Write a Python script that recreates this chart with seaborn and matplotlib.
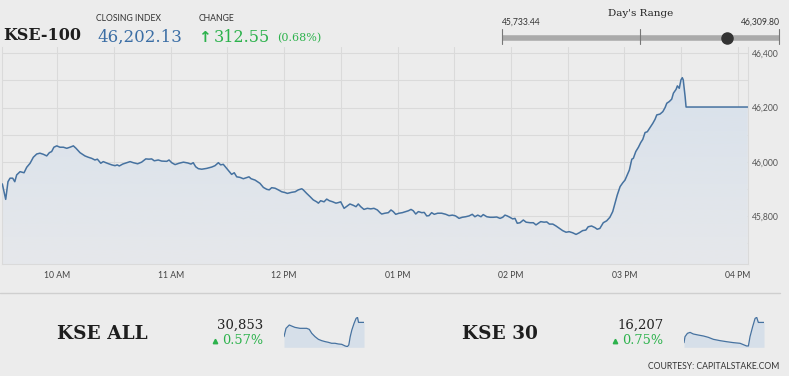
import numpy as np
import pandas as pd
import matplotlib.pyplot as plt
import matplotlib.colors as mcolors
import seaborn as sns

W, H = 789, 376

# KSE-100 intraday: minutes after 09:30 and index level
kse100_min = [0.9, 2.7, 3.9, 5.0, 6.4, 7.5, 8.5, 10.3, 12.4, 13.8, 15.6, 17.3, 19.1, 20.8, 22.6,
              24.4, 25.8, 27.0, 28.2, 29.7, 31.4, 33.2, 35.0, 36.7, 38.5, 39.9, 42.0, 44.6, 46.4,
              48.2, 49.9, 51.2, 53.0, 54.3, 56.4, 58.8, 60.5, 61.7, 62.8, 64.6, 66.7, 68.5,
              70.2, 72.5, 74.6, 76.8, 78.5, 79.9, 81.3, 83.4, 85.2, 87.9, 89.1, 90.5, 92.3, 94.4,
              96.7, 99.0, 100.7, 101.9, 103.2, 104.6, 106.4, 109.0, 111.7, 113.4, 115.2, 116.4,
              117.8, 119.6, 120.8, 122.2, 123.6, 124.9, 126.6, 128.4, 129.7, 131.4, 132.5, 134.6,
              137.2, 139.0, 140.8, 142.1, 143.4, 145.2, 146.9, 148.7, 150.5, 151.7, 154.0, 155.8,
              157.5, 159.3, 160.1, 161.9, 163.7, 165.4, 167.2, 168.1, 169.3, 171.1, 172.5, 173.9,
              175.7, 177.4, 178.6, 179.9, 181.7, 183.4, 184.8, 186.6, 188.0, 189.2, 190.5, 192.2,
              194.0, 195.8, 197.5, 199.3, 200.7,
              201.6, 203.3, 205.1, 206.5, 207.7, 209.0, 210.8, 212.5, 214.3, 215.7, 217.1, 218.3,
              219.6, 221.0, 222.8, 224.1, 225.4, 226.6, 228.0, 229.4, 231.2, 233.3, 235.5, 237.2,
              239.0, 240.7, 242.5, 244.2, 246.0, 247.8, 249.5, 250.9, 252.4, 254.1, 255.3, 257.2,
              258.9, 260.6, 262.4, 264.2,
              265.6, 266.8, 268.0, 269.4, 270.9, 272.1, 273.3, 274.8, 276.5, 278.0, 280.1, 281.8,
              283.2, 284.5, 285.7, 287.5, 288.9, 290.3, 292.1, 293.8, 295.6, 297.3, 299.1, 300.8,
              302.6, 304.4, 306.1, 307.9, 309.6, 310.8, 312.6, 314.4, 315.6, 317.0,
              318.8, 320.6, 322.3, 323.8, 325.0, 326.2, 327.7, 329.1, 330.3, 331.5, 332.6, 333.9,
              334.7, 336.0, 337.4, 338.6, 339.7, 340.9, 342.1, 343.5, 345.0, 346.2, 347.1, 348.8,
              350.3, 351.5, 352.4, 353.7, 355.0, 355.9, 357.3, 358.0, 359.0, 359.9, 360.6, 361.1,
              362.1, 362.6, 395.2]
kse100_val = [45919, 45862, 45927, 45940, 45940, 45927, 45952, 45964, 45960, 45980, 45995, 46017,
              46029, 46032, 46028, 46022, 46034, 46038, 46054, 46059, 46054, 46054, 46050, 46054,
              46059, 46050, 46034, 46022, 46017, 46013, 46007, 46010, 45995, 46001, 45995, 45989,
              45986, 45989, 45985, 45992, 45997, 46001,
              45997, 45993, 45999, 46011, 46010, 46011, 46004, 46007, 46003, 46002, 46007, 45997,
              45990, 45995, 45999, 45996, 45992, 45997, 45982, 45975, 45973, 45976, 45981, 45986,
              45997, 45989, 45991, 45976, 45966, 45954, 45960, 45945, 45943, 45938, 45941, 45945,
              45938, 45933,
              45921, 45906, 45899, 45897, 45905, 45903, 45897, 45890, 45887, 45884, 45888, 45890,
              45897, 45901, 45897, 45884, 45872, 45860, 45853, 45848, 45857, 45853, 45863, 45857,
              45853, 45848, 45850, 45853, 45829, 45838, 45845, 45840, 45835, 45845, 45835, 45825,
              45829, 45827, 45829, 45823, 45813,
              45808, 45811, 45813, 45823, 45817, 45807, 45811, 45813, 45817, 45820, 45825, 45820,
              45808, 45817, 45813, 45814, 45801, 45802, 45813, 45807, 45811, 45811, 45807, 45802,
              45804, 45801, 45792, 45796, 45798, 45801, 45807, 45798, 45804, 45798, 45806, 45798,
              45796, 45796, 45797, 45792,
              45796, 45804, 45801, 45796, 45790, 45792, 45774, 45776, 45786, 45778, 45776, 45776,
              45768, 45774, 45780, 45778, 45779, 45771, 45771, 45764, 45755, 45747, 45741, 45743,
              45739, 45733, 45739, 45747, 45749, 45761, 45764, 45758, 45752, 45755,
              45776, 45783, 45796, 45817, 45848, 45878, 45909, 45923, 45933, 45952, 45970, 46010,
              46013, 46038, 46054, 46071, 46083, 46108, 46111, 46126, 46142, 46157, 46173, 46176,
              46185, 46200, 46216, 46222, 46231, 46253, 46267, 46280, 46271, 46302, 46310, 46302,
              46240, 46202, 46202]

# sparklines
kse_all_min = [0, 10, 26, 38, 54, 79, 112, 125, 137, 153, 170, 186, 203, 219, 235, 252, 268, 285,
               302, 313, 320, 327, 335, 346, 356, 363, 368, 395]
kse_all_val = [30690, 30785, 30823, 30811, 30796, 30785, 30785, 30773, 30728, 30690, 30659, 30644,
               30633, 30625, 30614, 30614, 30606, 30602, 30583, 30576, 30595, 30690, 30766, 30842,
               30899, 30910, 30853, 30853]
kse30_min = [0, 5, 17, 30, 46, 71, 96, 120, 145, 178, 211, 244, 277, 309, 318, 326, 339, 351, 359,
             367, 395]
kse30_val = [16055, 16100, 16125, 16132, 16120, 16112, 16105, 16095, 16080, 16070, 16062, 16055,
             16050, 16030, 16030, 16100, 16175, 16237, 16245, 16207, 16207]

close_index = 46202.13
change = 312.55
change_pct = 0.68
day_low, day_high = 45733.44, 46309.80
kse_all_pct = 0.57
kse30_pct = 0.75

hour_ticks = [30, 90, 150, 210, 270, 330, 390]
hour_labels = ['10 AM', '11 AM', '12 PM', '01 PM', '02 PM', '03 PM', '04 PM']
half_hour_ticks = [60, 120, 180, 240, 300, 360]
y_ticks = [45800, 46000, 46200, 46400]
y_minor = [45700, 45900, 46100, 46300]

bg = '#ececec'
grid_c = '#dadada'
line_c = '#4672a0'
green = '#2cb24c'
dark = '#1e1e1e'

sns.set_style('white', rc={'axes.facecolor': bg, 'figure.facecolor': bg})
plt.rcParams['font.family'] = ['Lato', 'DejaVu Sans']


def px_box(x0, y0, x1, y1):
    return [x0 / W, 1 - y1 / H, (x1 - x0) / W, (y1 - y0) / H]


fig = plt.figure(figsize=(W / 100, H / 100), dpi=100)

canvas = fig.add_axes([0, 0, 1, 1])
canvas.set_xlim(0, W)
canvas.set_ylim(H, 0)
canvas.axis('off')

# main chart
df = pd.DataFrame({'minute': kse100_min, 'value': kse100_val})
ax = fig.add_axes(px_box(2.3, 47, 747.7, 264))
y0, y1 = 45624, 46423
fill = ax.fill_between(df['minute'], df['value'], y0, color='none', lw=0)
grad = np.linspace(0, 1, 256).reshape(-1, 1)
cmap = mcolors.LinearSegmentedColormap.from_list('g', ['#e6e8eb', '#d8e1eb'])
im = ax.imshow(grad, cmap=cmap, aspect='auto', origin='lower',
               extent=[df['minute'].min(), df['minute'].max(), y0, df['value'].max()], zorder=1)
im.set_clip_path(fill.get_paths()[0], transform=ax.transData)
sns.lineplot(data=df, x='minute', y='value', ax=ax, color=line_c, linewidth=1.1, zorder=3)
ax.set_xlim(df['minute'].min(), df['minute'].max())
ax.set_ylim(y0, y1)
ax.set_xticks(hour_ticks)
ax.set_xticklabels(hour_labels)
ax.set_xticks(half_hour_ticks, minor=True)
ax.set_yticks(y_ticks)
ax.set_yticklabels([f'{v:,}' for v in y_ticks])
ax.set_yticks(y_minor, minor=True)
ax.yaxis.tick_right()
ax.grid(True, which='both', color=grid_c, lw=0.8, zorder=0)
ax.set_axisbelow(True)
ax.tick_params(axis='x', which='both', length=0, labelsize=6.2, labelcolor='#444', pad=5.4)
ax.tick_params(axis='y', which='both', length=0, labelsize=6.2, labelcolor='#555', pad=3.1)
ax.set_xlabel('')
ax.set_ylabel('')
for s in ['left', 'right', 'bottom']:
    ax.spines[s].set_color(grid_c)
    ax.spines[s].set_linewidth(0.8)
ax.spines['top'].set_visible(False)

# header
canvas.text(3, 40, 'KSE-100', family='DejaVu Serif', weight='bold', size=11.5, color=dark, va='baseline')
canvas.text(96, 20.7, 'CLOSING INDEX', size=6.2, color='#333', va='baseline')
canvas.text(97, 41.5, f'{close_index:,.2f}', family='DejaVu Serif', size=12, color='#3b6ea5', va='baseline')
canvas.text(199, 20.7, 'CHANGE', size=6.2, color='#333', va='baseline')
canvas.text(198, 41.5, '↑', family='DejaVu Sans', weight='bold', size=11, color=green, va='baseline')
canvas.text(214, 41.5, f'{change:.2f}', family='DejaVu Serif', size=11.5, color=green, va='baseline')
canvas.text(277, 41.5, f'({change_pct:.2f}%)', family='DejaVu Serif', size=8, color=green, va='baseline')

# day's range
canvas.text(641, 15.5, "Day's Range", family='DejaVu Serif', size=7.5, color='#222', ha='center', va='baseline')
canvas.text(502, 25, f'{day_low:,.2f}', size=6.2, color='#333', va='baseline')
canvas.text(780, 25, f'{day_high:,.2f}', size=6.2, color='#333', ha='right', va='baseline')
canvas.plot([502, 779], [37.8, 37.8], color='#aaaaaa', lw=4, solid_capstyle='butt')
for xx in [502, 640.5, 779]:
    canvas.plot([xx, xx], [29, 44], color='#777', lw=0.8)
dot_x = 502 + (close_index - day_low) / (day_high - day_low) * 277
canvas.plot(dot_x, 37.8, 'o', ms=8, color='#333')

# separator
canvas.plot([0, 780], [292.5, 292.5], color='#cfcfcf', lw=1)

# bottom tiles
tiles = [('KSE ALL', kse_all_min, kse_all_val, kse_all_pct, 57, 0, (30568, 30918)),
         ('KSE 30', kse30_min, kse30_val, kse30_pct, 462, 400, (16020, 16250))]
for name, mins, vals, pct, name_x, off, ylim in tiles:
    canvas.text(name_x, 339.3, name, family='DejaVu Serif', weight='bold', size=13.3, color=dark, va='baseline')
    canvas.text(263.3 + off, 329, f'{vals[-1]:,}', family='DejaVu Serif', size=9.5, color='#222',
                ha='right', va='baseline')
    canvas.plot(214.7 + off, 341, marker='^', ms=3.2, color=green)
    canvas.text(263.3 + off, 344, f'{pct:.2f}%', family='DejaVu Serif', size=9.3, color=green,
                ha='right', va='baseline')
    sp = pd.DataFrame({'minute': mins, 'value': vals})
    sax = fig.add_axes(px_box(284 + off, 316.7, 364 + off, 347.3))
    sax.fill_between(sp['minute'], sp['value'], ylim[0], color='#d6dfe9', lw=0)
    sns.lineplot(data=sp, x='minute', y='value', ax=sax, color=line_c, linewidth=0.9)
    sax.set_xlim(sp['minute'].min(), sp['minute'].max())
    sax.set_ylim(*ylim)
    sax.axis('off')

canvas.text(779, 368.7, 'COURTESY: CAPITALSTAKE.COM', size=6.2, color='#333', ha='right', va='baseline')

fig.savefig('out.png', dpi=100, facecolor=bg)
